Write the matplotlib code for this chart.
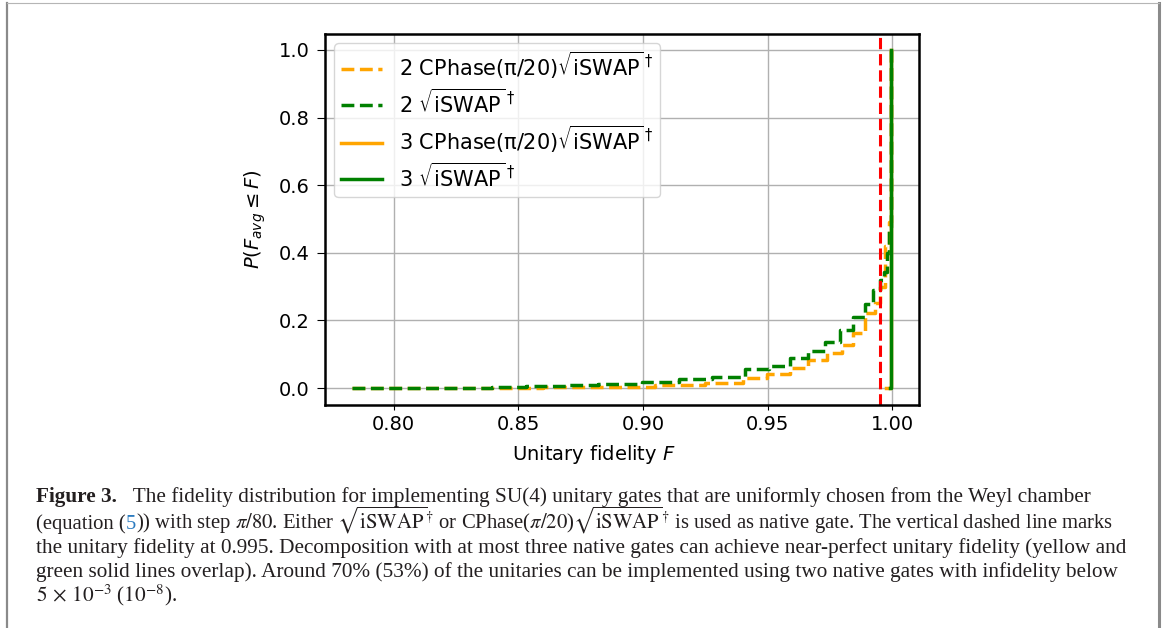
import matplotlib
matplotlib.use("Agg")
import matplotlib.pyplot as plt
from matplotlib.lines import Line2D

# cumulative fidelity distributions (step points)
fid_2_cphase = [0.7832, 0.86, 0.885, 0.905, 0.925, 0.94, 0.9497, 0.9591, 0.9664, 0.9737,
                0.9797, 0.9844, 0.9891, 0.9931, 0.9951, 0.9972, 0.9988, 0.9995]
cdf_2_cphase = [0.0, 0.002, 0.004, 0.008, 0.015, 0.029, 0.041, 0.058, 0.083, 0.103,
                0.127, 0.162, 0.221, 0.251, 0.30, 0.42, 0.49, 1.0]

fid_2_iswap = [0.7832, 0.8396, 0.853, 0.870, 0.882, 0.8997, 0.9144, 0.9277, 0.9411, 0.9504,
               0.9591, 0.9664, 0.9731, 0.9791, 0.9844, 0.9891, 0.9924, 0.9951, 0.9966,
               0.9978, 0.9988, 0.9995]
cdf_2_iswap = [0.0, 0.003, 0.006, 0.009, 0.013, 0.019, 0.026, 0.034, 0.055, 0.065,
               0.088, 0.11, 0.137, 0.172, 0.21, 0.249, 0.29, 0.32, 0.344,
               0.40, 0.477, 1.0]

fid_3_cphase = [0.9976, 0.9995]
cdf_3_cphase = [0.0, 1.0]
fid_3_iswap = [0.9992, 0.9995]
cdf_3_iswap = [0.0, 1.0]

threshold = 0.995

labels = [r'2 CPhase(π/20)$\sqrt{\mathrm{iSWAP}}^\dagger$',
          r'2 $\sqrt{\mathrm{iSWAP}}^\dagger$',
          r'3 CPhase(π/20)$\sqrt{\mathrm{iSWAP}}^\dagger$',
          r'3 $\sqrt{\mathrm{iSWAP}}^\dagger$']

W, H = 1165, 628
fig = plt.figure(figsize=(W / 100, H / 100), dpi=100)
ax = fig.add_axes([325 / W, 1 - 405 / H, 594 / W, 371 / H])

lw = 2.5
ax.plot(fid_2_cphase, cdf_2_cphase, drawstyle='steps-post', ls='--', color='orange', lw=lw, label=labels[0])
ax.plot(fid_2_iswap, cdf_2_iswap, drawstyle='steps-post', ls='--', color='green', lw=lw, label=labels[1])
ax.plot(fid_3_cphase, cdf_3_cphase, drawstyle='steps-post', color='orange', lw=lw, label=labels[2])
ax.plot(fid_3_iswap, cdf_3_iswap, drawstyle='steps-post', color='green', lw=lw, label=labels[3])
ax.axvline(threshold, color='red', ls='--', lw=2.2)

ax.set_xlim(0.7724, 1.0108)
ax.set_ylim(-0.05, 1.047)
ax.set_xticks([0.80, 0.85, 0.90, 0.95, 1.00])
ax.set_xticklabels(['0.80', '0.85', '0.90', '0.95', '1.00'])
ax.set_yticks([0.0, 0.2, 0.4, 0.6, 0.8, 1.0])
ax.set_yticklabels(['0.0', '0.2', '0.4', '0.6', '0.8', '1.0'])
ax.grid(True, color='#b0b0b0', lw=1)
ax.tick_params(labelsize=14)
ax.tick_params(axis='y', length=6, pad=5)
for s in ax.spines.values():
    s.set_linewidth(1.8)

ax.set_xlabel(r'Unitary fidelity $F$', fontsize=14)
ax.set_ylabel(r'$P(F_{avg} \leq F)$', fontsize=14)
ax.xaxis.set_label_coords(0.453, -0.102)
ax.yaxis.set_label_coords(-0.096, 0.5)

ax.legend(loc='upper left', fontsize=15, labelspacing=0.35, borderpad=0.3,
          handlelength=2.0, handletextpad=0.8, borderaxespad=0.45)

# frame of the page
frame = '#8a8a8a'
fig.add_artist(Line2D([7 / W, 7 / W], [0, 1 - 3 / H], transform=fig.transFigure, color=frame, lw=1.6))
fig.add_artist(Line2D([1159 / W, 1159 / W], [0, 1 - 3 / H], transform=fig.transFigure, color=frame, lw=2.2))
fig.add_artist(Line2D([7 / W, 1159 / W], [1 - 3 / H, 1 - 3 / H], transform=fig.transFigure, color='#b5b5b5', lw=0.8))

# caption
cap_color = '#231f20'
cap_fs = 15.3
renderer = fig.canvas.get_renderer()


def caption_line(y_px, pieces, x_px=36, fs=cap_fs):
    x = x_px / W
    for txt, kw in pieces:
        style = dict(fontsize=fs, family='Liberation Serif', color=cap_color,
                     math_fontfamily='stix', va='baseline', ha='left')
        style.update(kw)
        t = fig.text(x, 1 - y_px / H, txt, **style)
        bb = t.get_window_extent(renderer)
        x = bb.x1 / fig.bbox.width


caption_line(502, [('Figure 3.', dict(weight='bold')),
                   ('   The fidelity distribution for implementing SU(4) unitary gates that are uniformly chosen from the Weyl chamber', {})])
caption_line(529, [('(equation (', {}), ('5', dict(color='#2b7bc0')),
                   (r')) with step $\pi/80$. Either $\sqrt{\mathrm{iSWAP}}^{\dagger}$ or CPhase($\pi/20$)$\sqrt{\mathrm{iSWAP}}^{\dagger}$ is used as native gate. The vertical dashed line marks', {})],
             fs=14.9)
caption_line(553, [('the unitary fidelity at 0.995. Decomposition with at most three native gates can achieve near-perfect unitary fidelity (yellow and', {})])
caption_line(577, [('green solid lines overlap). Around 70% (53%) of the unitaries can be implemented using two native gates with infidelity below', {})])
caption_line(601, [(r'$5\,\times\,10^{-3}$ ($10^{-8}$).', {})])

fig.savefig('out.png', dpi=100)
